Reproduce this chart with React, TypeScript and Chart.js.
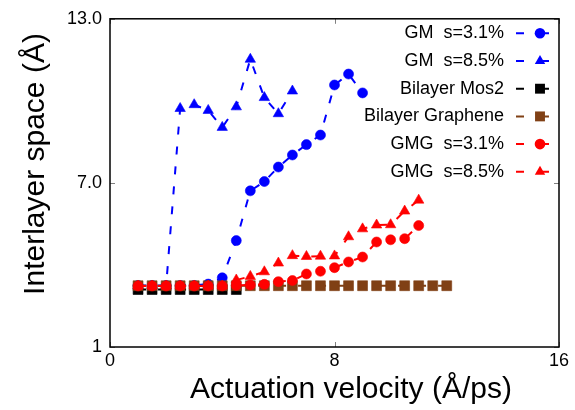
import React, { useEffect, useRef } from 'react';
import { Chart, registerables } from 'chart.js';

Chart.register(...registerables);

const FONT = '"Liberation Sans", Arial, Helvetica, sans-serif';

// ---- data ----
const seriesNames = ['GM  s=3.1%', 'GM  s=8.5%', 'Bilayer Mos2', 'Bilayer Graphene', 'GMG  s=3.1%', 'GMG  s=8.5%'];
const seriesColors = ['#0000ff', '#0000ff', '#000000', '#804015', '#ff0000', '#ff0000'];
const seriesMarkers = ['circle', 'triangle', 'rect', 'rect', 'circle', 'triangle'];

const gm31X = [1, 1.5, 2, 2.5, 3, 3.5, 4, 4.5, 5, 5.5, 6, 6.5, 7, 7.5, 8, 8.5, 9];
const gm31Y = [3.25, 3.25, 3.25, 3.25, 3.25, 3.3, 3.53, 4.89, 6.71, 7.05, 7.58, 8.02, 8.4, 8.75, 10.58, 10.98, 10.29];

const gm85X = [1, 1.5, 2, 2.5, 3, 3.5, 4, 4.5, 5, 5.5, 6, 6.5];
const gm85Y = [3.23, 3.23, 3.23, 9.72, 9.86, 9.65, 9.03, 9.78, 11.52, 10.12, 9.53, 10.36];

const mos2X = [1, 1.5, 2, 2.5, 3, 3.5, 4, 4.5];
const mos2Y = [3.1, 3.1, 3.1, 3.1, 3.1, 3.1, 3.1, 3.1];

const grapheneX = [1, 1.5, 2, 2.5, 3, 3.5, 4, 4.5, 5, 5.5, 6, 6.5, 7, 7.5, 8, 8.5, 9, 9.5, 10, 10.5, 11, 11.5, 12];
const grapheneY = [3.24, 3.24, 3.24, 3.24, 3.24, 3.24, 3.24, 3.24, 3.24, 3.24, 3.24, 3.24, 3.24, 3.24, 3.24, 3.24, 3.24, 3.24, 3.24, 3.24, 3.24, 3.24, 3.24];

const gmg31X = [1, 1.5, 2, 2.5, 3, 3.5, 4, 4.5, 5, 5.5, 6, 6.5, 7, 7.5, 8, 8.5, 9, 9.5, 10, 10.5, 11];
const gmg31Y = [3.23, 3.23, 3.23, 3.23, 3.23, 3.23, 3.23, 3.25, 3.27, 3.29, 3.39, 3.43, 3.67, 3.77, 3.9, 4.11, 4.29, 4.84, 4.92, 4.96, 5.44];

const gmg85X = [1, 1.5, 2, 2.5, 3, 3.5, 4, 4.5, 5, 5.5, 6, 6.5, 7, 7.5, 8, 8.5, 9, 9.5, 10, 10.5, 11];
const gmg85Y = [3.23, 3.23, 3.23, 3.23, 3.23, 3.23, 3.23, 3.45, 3.58, 3.75, 4.07, 4.34, 4.31, 4.32, 4.33, 5.03, 5.32, 5.46, 5.47, 5.97, 6.37];

const seriesX = [gm31X, gm85X, mos2X, grapheneX, gmg31X, gmg85X];
const seriesY = [gm31Y, gm85Y, mos2Y, grapheneY, gmg31Y, gmg85Y];

const xTickValues = [0, 8, 16];
const xTickLabels = ['0', '8', '16'];
const yTickValues = [1, 7, 13];
const yTickLabels = ['1', '7.0', '13.0'];
const xTitle = 'Actuation velocity (Å/ps)';
const yTitle = 'Interlayer space (Å)';

// ---- helpers ----
function markerRadius(style: string) {
  if (style === 'rect') return 7;
  if (style === 'triangle') return 6;
  return 5;
}

function drawMarker(ctx: CanvasRenderingContext2D, style: string, x: number, y: number, color: string) {
  const r = markerRadius(style);
  ctx.save();
  ctx.fillStyle = color;
  ctx.beginPath();
  if (style === 'circle') {
    ctx.arc(x, y, r + 0.3, 0, Math.PI * 2);
  } else if (style === 'triangle') {
    ctx.moveTo(x, y - r);
    ctx.lineTo(x + r * Math.sin(Math.PI * 2 / 3), y + r * 0.5);
    ctx.lineTo(x - r * Math.sin(Math.PI * 2 / 3), y + r * 0.5);
    ctx.closePath();
  } else {
    const s = r * Math.SQRT1_2;
    ctx.rect(x - s, y - s, 2 * s, 2 * s);
  }
  ctx.fill();
  ctx.restore();
}

const decorPlugin = {
  id: 'decor',
  afterDraw(chart: any) {
    const { ctx, chartArea } = chart;
    const { left, right, top, bottom } = chartArea;
    const xs = chart.scales.x;
    const ys = chart.scales.y;
    ctx.save();
    // inner ticks
    ctx.strokeStyle = '#808080';
    ctx.lineWidth = 1;
    ctx.beginPath();
    xTickValues.forEach((v) => {
      const px = Math.round(xs.getPixelForValue(v)) + 0.5;
      ctx.moveTo(px, bottom);
      ctx.lineTo(px, bottom - 5);
      ctx.moveTo(px, top);
      ctx.lineTo(px, top + 5);
    });
    yTickValues.forEach((v) => {
      const py = Math.round(ys.getPixelForValue(v)) + 0.5;
      ctx.moveTo(left, py);
      ctx.lineTo(left + 5, py);
      ctx.moveTo(right, py);
      ctx.lineTo(right - 5, py);
    });
    ctx.stroke();
    // frame
    ctx.strokeStyle = '#000000';
    ctx.lineWidth = 1.5;
    ctx.strokeRect(left, top, right - left, bottom - top);

    // axis titles
    ctx.fillStyle = '#000000';
    ctx.font = `30px ${FONT}`;
    ctx.textAlign = 'center';
    ctx.textBaseline = 'alphabetic';
    ctx.fillText(xTitle, 351, 398);
    ctx.save();
    ctx.translate(43.5, 164);
    ctx.rotate(-Math.PI / 2);
    ctx.fillText(yTitle, 0, 0);
    ctx.restore();

    // legend
    ctx.font = `18px ${FONT}`;
    ctx.textAlign = 'right';
    ctx.textBaseline = 'middle';
    seriesNames.forEach((name, i) => {
      const y = 33.3 + i * 27.7;
      ctx.fillStyle = '#000000';
      ctx.fillText(name, 504, y);
      const color = seriesColors[i];
      ctx.strokeStyle = color;
      ctx.lineWidth = 2;
      ctx.beginPath();
      ctx.moveTo(516, y);
      ctx.lineTo(524, y);
      ctx.moveTo(540, y);
      ctx.lineTo(549, y);
      ctx.stroke();
      drawMarker(ctx, seriesMarkers[i], 540, y, color);
    });
    ctx.restore();
  },
};

export default function App() {
  const canvasRef = useRef<HTMLCanvasElement | null>(null);

  useEffect(() => {
    document.body.style.margin = '0';
    const canvas = canvasRef.current;
    if (!canvas) return;

    const datasets = seriesNames.map((name, i) => ({
      label: name,
      data: seriesX[i].map((x, j) => ({ x, y: seriesY[i][j] })),
      borderColor: seriesColors[i],
      backgroundColor: seriesColors[i],
      borderWidth: 2,
      borderDash: [8, 12],
      pointStyle: seriesMarkers[i],
      pointRadius: markerRadius(seriesMarkers[i]),
      pointBackgroundColor: seriesColors[i],
      pointBorderColor: seriesColors[i],
      pointBorderWidth: 0.6,
      showLine: true,
      fill: false,
      tension: 0,
      order: seriesNames.length - i,
    }));

    const tickFont = { family: FONT, size: 18 };

    const chart = new Chart(canvas, {
      type: 'line',
      data: { datasets },
      options: {
        animation: false,
        responsive: false,
        devicePixelRatio: 1,
        layout: { padding: { top: 10, right: 16, left: 0, bottom: 0 } },
        plugins: { legend: { display: false }, tooltip: { enabled: false } },
        scales: {
          x: {
            type: 'linear',
            min: 0,
            max: 16,
            afterBuildTicks: (s: any) => {
              s.ticks = xTickValues.map((v) => ({ value: v }));
            },
            afterFit: (s: any) => {
              s.height = 63;
            },
            grid: { display: false, drawTicks: false },
            border: { display: false },
            ticks: {
              padding: 3,
              color: '#000000',
              font: tickFont,
              maxRotation: 0,
              autoSkip: false,
              callback: (v: any) => {
                const k = xTickValues.indexOf(Number(v));
                return k >= 0 ? xTickLabels[k] : '';
              },
            },
          },
          y: {
            type: 'linear',
            min: 1,
            max: 13,
            afterBuildTicks: (s: any) => {
              s.ticks = yTickValues.map((v) => ({ value: v }));
            },
            afterFit: (s: any) => {
              s.width = 110;
            },
            grid: { display: false, drawTicks: false },
            border: { display: false },
            ticks: {
              padding: 8,
              color: '#000000',
              font: tickFont,
              autoSkip: false,
              callback: (v: any) => {
                const k = yTickValues.indexOf(Number(v));
                return k >= 0 ? yTickLabels[k] : '';
              },
            },
          },
        },
      },
      plugins: [decorPlugin],
    } as any);

    return () => {
      chart.destroy();
    };
  }, []);

  return (
    <div style={{ width: 575, height: 410, background: '#ffffff' }}>
      <canvas ref={canvasRef} width={575} height={410} style={{ display: 'block', width: 575, height: 410 }} />
    </div>
  );
}
